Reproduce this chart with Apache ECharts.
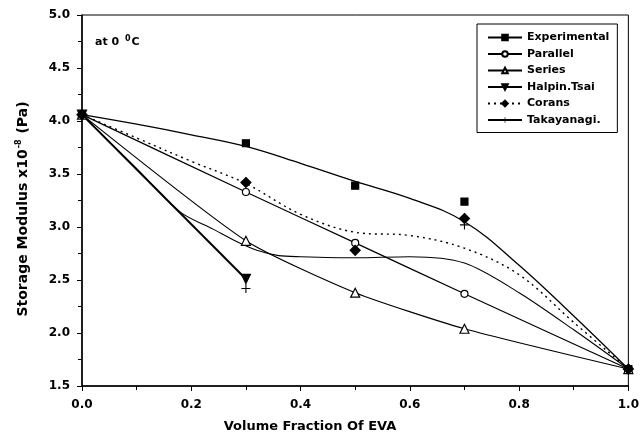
<!DOCTYPE html>
<html>
<head>
<meta charset="utf-8">
<script src="https://cdn.jsdelivr.net/npm/echarts@6/dist/echarts.min.js"></script>
<style>html,body{margin:0;padding:0;background:#fff}#c{width:642px;height:440px}</style>
</head>
<body>
<div id="c"></div>
<script>
// ---- data ----
const seriesNames = ['Experimental', 'Parallel', 'Series', 'Halpin.Tsai', 'Corans', 'Takayanagi.'];
const xTicks = [0, 0.2, 0.4, 0.6, 0.8, 1.0];
const yTicks = [1.5, 2.0, 2.5, 3.0, 3.5, 4.0, 4.5, 5.0];

// measured points (markers)
const expPtsX = [0, 0.3, 0.5, 0.7, 1.0];
const expPtsY = [4.06, 3.79, 3.39, 3.24, 1.66];
const parPtsX = [0, 0.3, 0.5, 0.7, 1.0];
const parPtsY = [4.06, 3.33, 2.85, 2.37, 1.66];
const serPtsX = [0, 0.3, 0.5, 0.7, 1.0];
const serPtsY = [4.06, 2.87, 2.38, 2.04, 1.66];
const halPtsX = [0, 0.3];
const halPtsY = [4.06, 2.51];
const corPtsX = [0, 0.3, 0.5, 0.7, 1.0];
const corPtsY = [4.06, 3.42, 2.78, 3.08, 1.66];
const takPtsX = [0, 0.3, 0.7];
const takPtsY = [4.06, 2.42, 3.02];

// curves (lines)
const expLineX = [0, 0.1, 0.2, 0.3, 0.4, 0.5, 0.6, 0.7, 0.8, 0.9, 1.0];
const expLineY = [4.06, 3.97, 3.87, 3.76, 3.60, 3.43, 3.27, 3.05, 2.64, 2.16, 1.66];
const parLineX = parPtsX;
const parLineY = parPtsY;
const serLineX = serPtsX;
const serLineY = serPtsY;
const halLineX = [0, 0.3];
const halLineY = [4.06, 2.51];
const corLineX = [0, 0.1, 0.2, 0.3, 0.4, 0.5, 0.6, 0.7, 0.8, 0.9, 1.0];
const corLineY = [4.06, 3.84, 3.62, 3.41, 3.12, 2.95, 2.92, 2.80, 2.55, 2.10, 1.66];
const takLineX = [0, 0.1, 0.18, 0.24, 0.28, 0.32, 0.36, 0.4, 0.5, 0.6, 0.7, 0.8, 0.9, 1.0];
const takLineY = [4.06, 3.55, 3.14, 2.98, 2.87, 2.78, 2.73, 2.72, 2.71, 2.72, 2.66, 2.38, 2.03, 1.66];

// ---- build ----
const FONT = 'DejaVu Sans, sans-serif';
const zip = (xs, ys) => xs.map((x, i) => [x, ys[i]]);
const plusPath = 'path://M4.4,0L5.6,0L5.6,4.4L10,4.4L10,5.6L5.6,5.6L5.6,10L4.4,10L4.4,5.6L0,5.6L0,4.4L4.4,4.4Z';

const styles = {
  'Experimental': { symbol: 'rect', size: 7, fill: '#000', lw: 1.3, type: 'solid', rot: 0, smooth: 0.4 },
  'Parallel': { symbol: 'circle', size: 7, fill: '#fff', lw: 1.2, type: 'solid', rot: 0, smooth: 0.2 },
  'Series': { symbol: 'triangle', size: 9, fill: '#fff', lw: 1.2, type: 'solid', rot: 0, smooth: 0.2 },
  'Halpin.Tsai': { symbol: 'triangle', size: 9, fill: '#000', lw: 2, type: 'solid', rot: 180, smooth: 0 },
  'Corans': { symbol: 'diamond', size: 10, fill: '#000', lw: 1.4, type: [2, 4], rot: 0, smooth: 0.35 },
  'Takayanagi.': { symbol: plusPath, size: 9, fill: '#000', lw: 1.1, type: 'solid', rot: 0, smooth: 0.3 }
};
const lines = {
  'Experimental': zip(expLineX, expLineY),
  'Parallel': zip(parLineX, parLineY),
  'Series': zip(serLineX, serLineY),
  'Halpin.Tsai': zip(halLineX, halLineY),
  'Corans': zip(corLineX, corLineY),
  'Takayanagi.': zip(takLineX, takLineY)
};
const pts = {
  'Experimental': zip(expPtsX, expPtsY),
  'Parallel': zip(parPtsX, parPtsY),
  'Series': zip(serPtsX, serPtsY),
  'Halpin.Tsai': zip(halPtsX, halPtsY),
  'Corans': zip(corPtsX, corPtsY),
  'Takayanagi.': zip(takPtsX, takPtsY)
};

const series = [];
seriesNames.forEach(n => {
  const s = styles[n];
  series.push({
    name: n, type: 'line', data: lines[n], smooth: s.smooth,
    symbol: s.symbol, symbolSize: s.size, symbolRotate: s.rot, showSymbol: false,
    lineStyle: { color: '#000', width: s.lw, type: s.type },
    itemStyle: { color: s.fill, borderColor: '#000', borderWidth: s.symbol === plusPath ? 0 : 1.1 },
    z: 2
  });
});
seriesNames.forEach(n => {
  const s = styles[n];
  series.push({
    name: n + '_pts', type: 'scatter', data: pts[n],
    symbol: s.symbol, symbolSize: s.size, symbolRotate: s.rot,
    itemStyle: { color: s.fill, borderColor: '#000', borderWidth: s.symbol === plusPath ? 0 : 1.2, opacity: 1 },
    z: 3
  });
});

const chart = echarts.init(document.getElementById('c'), null, { renderer: 'canvas' });
chart.setOption({
  animation: false,
  backgroundColor: '#fff',
  grid: { left: 82, right: 11, top: 15, bottom: 54, show: true, borderColor: '#000', borderWidth: 1, backgroundColor: 'transparent' },
  xAxis: {
    type: 'value', min: xTicks[0], max: xTicks[xTicks.length - 1], interval: 0.2,
    axisLine: { lineStyle: { color: '#000', width: 1.5 } },
    axisTick: { show: true, inside: false, length: 5, lineStyle: { color: '#000', width: 1 } },
    minorTick: { show: true, splitNumber: 2, length: 4, lineStyle: { color: '#000', width: 1 } },
    splitLine: { show: false },
    axisLabel: { formatter: v => v.toFixed(1), color: '#000', fontFamily: FONT, fontWeight: 'bold', fontSize: 12, margin: 13 }
  },
  yAxis: {
    type: 'value', min: yTicks[0], max: yTicks[yTicks.length - 1], interval: 0.5,
    axisLine: { show: true, lineStyle: { color: '#000', width: 1.5 } },
    axisTick: { show: true, inside: false, length: 5, lineStyle: { color: '#000', width: 1 } },
    minorTick: { show: true, splitNumber: 2, length: 4, lineStyle: { color: '#000', width: 1 } },
    splitLine: { show: false },
    axisLabel: { formatter: v => v.toFixed(1), color: '#000', fontFamily: FONT, fontWeight: 'bold', fontSize: 12, margin: 12 }
  },
  legend: {
    data: seriesNames,
    orient: 'vertical', left: 477, top: 24,
    itemWidth: 34, itemHeight: 7, itemGap: 5.5,
    padding: [8, 8, 7, 10],
    borderColor: '#000', borderWidth: 1, backgroundColor: '#fff',
    textStyle: { color: '#000', fontFamily: FONT, fontWeight: 'bold', fontSize: 11 },
    selectedMode: false
  },
  graphic: [
    {
      type: 'text', left: 95, top: 35, z: 10,
      style: {
        text: 'at 0 {s|0}C', fill: '#000', font: 'bold 11px ' + FONT,
        rich: { s: { fontSize: 8, fontWeight: 'bold', fontFamily: FONT, verticalAlign: 'top', padding: [0, 1, 6, 2] } }
      }
    },
    {
      type: 'text', x: 23, y: 209, rotation: Math.PI / 2, z: 10,
      style: {
        text: 'Storage Modulus x10{s|-8} (Pa)', fill: '#000', font: 'bold 14px ' + FONT,
        align: 'center', verticalAlign: 'middle',
        rich: { s: { fontSize: 8, fontWeight: 'bold', fontFamily: FONT, padding: [0, 1, 8, 1] } }
      }
    },
    {
      type: 'text', x: 310, y: 427, z: 10,
      style: { text: 'Volume Fraction Of EVA', fill: '#000', font: 'bold 13px ' + FONT, align: 'center', verticalAlign: 'middle' }
    }
  ],
  series: series
});
</script>
</body>
</html>
